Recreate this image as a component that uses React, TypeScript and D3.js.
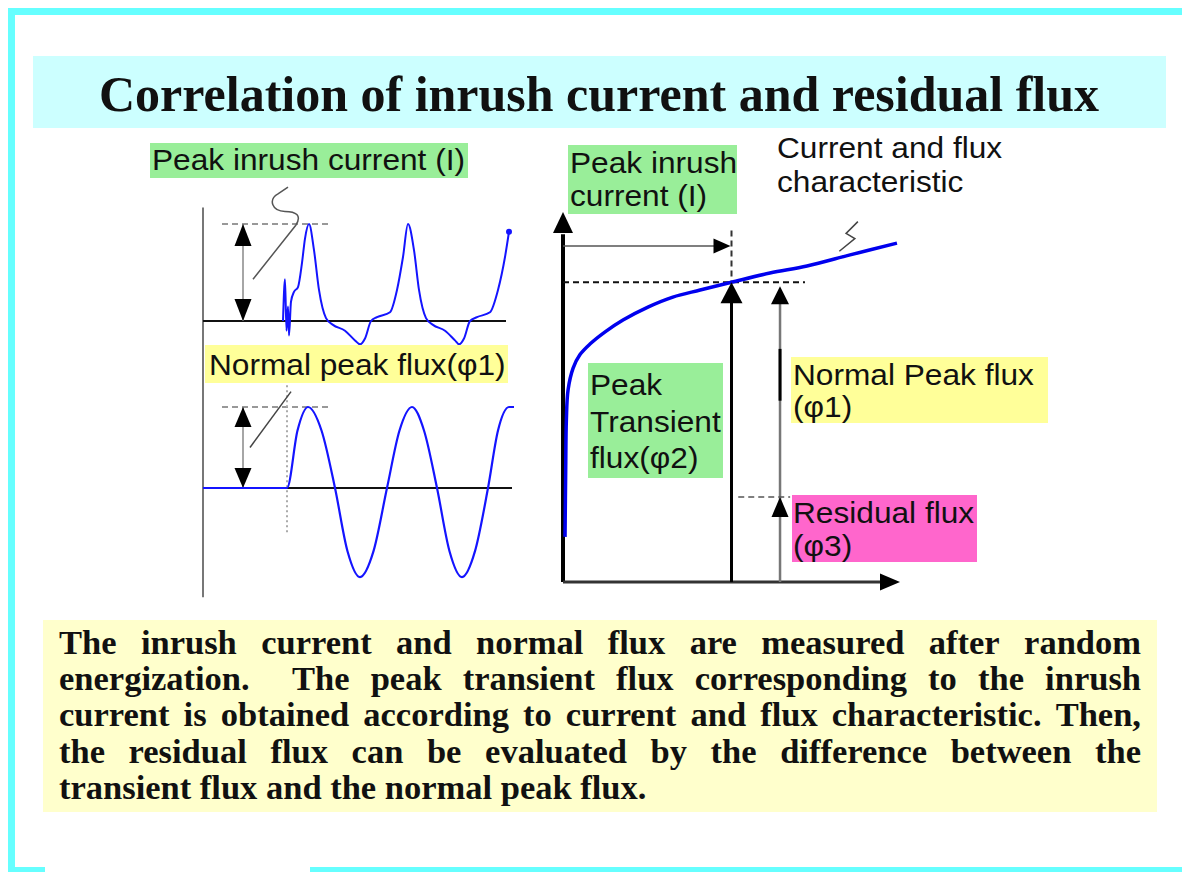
import React, { useEffect, useRef } from 'react'
import * as d3 from 'd3'

const W = 1182
const H = 872

// normal flux after energization (time in ms, flux in p.u.)
const fluxTime = [0, 16.8, 18.9, 21.0, 23.7, 26.4, 28.9, 31.4, 34.1, 36.8, 39.3, 41.8, 44.2, 46.8, 49.3, 51.8, 54.4, 57.0, 59.0, 61.2, 62.2]
const fluxValue = [0, 0, 0.71, 1.0, 0.71, 0, -0.78, -1.1, -0.78, 0, 0.71, 1.0, 0.71, 0, -0.78, -1.1, -0.78, 0, 0.71, 1.0, 1.0]

// inrush current (time in ms, current in p.u. of peak)
const inrushTime = [16.0, 16.4, 16.7, 17.0, 17.2, 17.6, 18.2, 19.0, 19.8, 20.4, 21.2, 22.2, 23.2, 24.6, 26.0, 28.4, 30.4, 31.4, 32.4, 33.6, 34.8, 37.4, 38.8, 40.0, 41.0, 42.2, 43.2, 44.6, 46.0, 48.4, 50.4, 51.2, 52.2, 53.4, 54.8, 57.4, 59.0, 60.4, 61.2]
const inrushValue = [0, 0.43, -0.1, 0.15, -0.15, 0.2, 0.3, 0.35, 0.6, 0.85, 1.0, 0.73, 0.32, 0.03, -0.04, -0.1, -0.2, -0.24, -0.18, 0, 0.04, 0.09, 0.32, 0.66, 1.0, 0.73, 0.32, 0.03, -0.04, -0.1, -0.2, -0.24, -0.18, 0, 0.04, 0.09, 0.32, 0.66, 0.92]

// current and flux characteristic
const charCurrent = [0.06, 0.08, 0.1, 0.15, 0.3, 0.5, 0.8, 1.25, 1.78, 2.52, 3.26, 4.07, 5.0, 6.14, 7.24, 8.52, 9.91]
const charFlux = [1.22, 3.03, 4.38, 5.19, 5.78, 6.14, 6.43, 6.76, 7.08, 7.43, 7.7, 7.89, 8.1, 8.35, 8.54, 8.84, 9.16]

const peakCurrent = 5.0
const phi2 = 8.1 // peak transient flux
const phi3 = 2.3 // residual flux
const phi1Pos = 6.44 // where the phi1/phi3 arrows sit on the current axis

const title = 'Correlation of inrush current and residual flux'
const bodyLines = [
    'The inrush current and normal flux are measured after random',
    'energization.  The peak transient flux corresponding to the inrush',
    'current is obtained according to current and flux characteristic. Then,',
    'the residual flux can be evaluated by the difference between the',
    'transient flux and the normal peak flux.',
]

const SANS = "'Liberation Sans', Arial, sans-serif"
const SERIF = "'Liberation Serif', 'Times New Roman', serif"

type Sel = d3.Selection<any, unknown, null, undefined>

const tri = (g: Sel, x: number, y: number, dir: string, len: number, half: number, fill = '#000') => {
    let p: number[][]
    if (dir === 'up') p = [[x, y], [x - half, y + len], [x + half, y + len]]
    else if (dir === 'down') p = [[x, y], [x - half, y - len], [x + half, y - len]]
    else if (dir === 'right') p = [[x, y], [x - len, y - half], [x - len, y + half]]
    else p = [[x, y], [x + len, y - half], [x + len, y + half]]
    g.append('path').attr('d', 'M' + p.map(d => d.join(',')).join('L') + 'Z').attr('fill', fill)
}

const line = (g: Sel, x1: number, y1: number, x2: number, y2: number, stroke: string, sw: number, dash?: string) => {
    const l = g.append('line').attr('x1', x1).attr('y1', y1).attr('x2', x2).attr('y2', y2)
        .attr('stroke', stroke).attr('stroke-width', sw)
    if (dash) l.attr('stroke-dasharray', dash)
}

// the slide's sans font runs a bit wider than Arial, so stretch it slightly
const label = (g: Sel, box: number[] | null, fill: string, x: number, lines: string[], baselines: number[]) => {
    if (box) g.append('rect').attr('x', box[0]).attr('y', box[1]).attr('width', box[2] - box[0]).attr('height', box[3] - box[1]).attr('fill', fill)
    lines.forEach((t, i) => {
        g.append('text').attr('transform', `translate(${x},${baselines[i]}) scale(1.055,1)`)
            .attr('font-family', SANS).attr('font-size', 30).attr('fill', '#111').text(t)
    })
}

export default function App() {
    const ref = useRef<SVGSVGElement>(null)

    useEffect(() => {
        const svg = d3.select(ref.current) as unknown as Sel
        svg.selectAll('*').remove()

        // frame
        svg.append('rect').attr('width', W).attr('height', H).attr('fill', '#fff')
        svg.append('rect').attr('x', 8).attr('y', 8).attr('width', W - 8).attr('height', 7).attr('fill', '#66ffff')
        svg.append('rect').attr('x', 8).attr('y', 8).attr('width', 7).attr('height', H - 8).attr('fill', '#66ffff')
        svg.append('rect').attr('x', 8).attr('y', 867).attr('width', 37).attr('height', 5).attr('fill', '#66ffff')
        svg.append('rect').attr('x', 310).attr('y', 867).attr('width', W - 310).attr('height', 5).attr('fill', '#66ffff')

        // title
        svg.append('rect').attr('x', 33).attr('y', 56).attr('width', 1133).attr('height', 72).attr('fill', '#ccffff')
        svg.append('text').attr('x', 599).attr('y', 111).attr('text-anchor', 'middle')
            .attr('font-family', SERIF).attr('font-weight', 'bold').attr('font-size', 50).attr('fill', '#111')
            .text(title)

        // ---------------- left: waveforms ----------------
        const left = svg.append('g')
        const xL = d3.scaleLinear().domain([0, 62]).range([203, 513])
        const yI = d3.scaleLinear().domain([0, 1]).range([321, 224])
        const yF = d3.scaleLinear().domain([0, 1]).range([488, 407])

        line(left, xL(0), yI(1.17), xL(0), yF(-1.35), '#777', 2)
        line(left, xL(0), yI(0), xL(60.6), yI(0), '#111', 2)
        line(left, xL(0), yF(0), xL(61.8), yF(0), '#111', 2)

        // peak markers
        line(left, xL(3.8), yI(1), xL(25.8), yI(1), '#777', 1.5, '6,4')
        line(left, xL(3.8), yF(1), xL(25.8), yF(1), '#777', 1.5, '6,4')
        line(left, xL(16.8), yF(1.27), xL(16.8), yF(-0.56), '#aaa', 2, '2,3')

        line(left, xL(8), yI(1), xL(8), yI(0), '#888', 1.5)
        tri(left, xL(8), yI(1), 'up', 22, 8.5)
        tri(left, xL(8), yI(0), 'down', 22, 8.5)
        line(left, xL(8), yF(1), xL(8), yF(0), '#888', 1.5)
        tri(left, xL(8), yF(1), 'up', 20, 8.5)
        tri(left, xL(8), yF(0), 'down', 20, 8.5)

        // break marks
        left.append('path').attr('d', `M${xL(10)},${yI(0.43)} L${xL(18.6)},${yI(0.99)} C${xL(19.8)},${yI(1.09)} ${xL(18.6)},${yI(1.13)} ${xL(16.4)},${yI(1.13)} C${xL(13.8)},${yI(1.13)} ${xL(13)},${yI(1.25)} ${xL(15)},${yI(1.31)} L${xL(17)},${yI(1.38)}`)
            .attr('fill', 'none').attr('stroke', '#555').attr('stroke-width', 1.5)
        line(left, xL(9.4), yF(0.5), xL(17.6), yF(1.19), '#444', 1.5)

        // waves
        const dataF = fluxTime.map((t, i) => [t, fluxValue[i]] as [number, number])
        const dataI = inrushTime.map((t, i) => [t, inrushValue[i]] as [number, number])
        left.append('path').datum(dataF)
            .attr('d', d3.line<[number, number]>().x(d => xL(d[0])).y(d => yF(d[1])).curve(d3.curveMonotoneX))
            .attr('fill', 'none').attr('stroke', '#1414ff').attr('stroke-width', 2.2)
        left.append('path').datum(dataI)
            .attr('d', d3.line<[number, number]>().x(d => xL(d[0])).y(d => yI(d[1])).curve(d3.curveMonotoneX))
            .attr('fill', 'none').attr('stroke', '#1414ff').attr('stroke-width', 2)
        const lastI = dataI[dataI.length - 1]
        left.append('circle').attr('cx', xL(lastI[0])).attr('cy', yI(lastI[1])).attr('r', 3).attr('fill', '#1414ff')

        label(left, [150, 143, 468, 178], '#99ee99', 152, ['Peak inrush current (I)'], [170])
        label(left, [205, 345, 508, 383], '#ffff99', 209, ['Normal peak flux(\u03c61)'], [375])

        // ---------------- right: current / flux characteristic ----------------
        const right = svg.append('g')
        const xR = d3.scaleLinear().domain([0, 10]).range([563, 900])
        const yR = d3.scaleLinear().domain([0, 10]).range([582, 212])

        // axes
        line(right, xR(0), yR(0), xR(0), yR(9.4), '#000', 4)
        tri(right, xR(0), yR(10), 'up', 21, 10)
        line(right, xR(0), yR(0), xR(9.5), yR(0), '#333', 3)
        tri(right, xR(10), yR(0), 'right', 20, 8.5)

        // current arrow
        line(right, xR(0), yR(9.08), xR(peakCurrent) - 16, yR(9.08), '#555', 1.5)
        tri(right, xR(peakCurrent) - 1, yR(9.08), 'right', 17, 7.5)
        line(right, xR(peakCurrent), yR(9.5), xR(peakCurrent), yR(phi2), '#333', 2, '6,4')
        line(right, xR(0), yR(phi2), xR(7.18), yR(phi2), '#111', 2, '6,4')

        // characteristic curve
        const dataC = charCurrent.map((c, i) => [c, charFlux[i]] as [number, number])
        right.append('path').datum(dataC)
            .attr('d', d3.line<[number, number]>().x(d => xR(d[0])).y(d => yR(d[1])).curve(d3.curveCatmullRom))
            .attr('fill', 'none').attr('stroke', '#0000ee').attr('stroke-width', 3.5)
        right.append('path').attr('d', `M${xR(8.75)},${yR(9.74)} L${xR(8.4)},${yR(9.42)} L${xR(8.66)},${yR(9.28)} L${xR(8.2)},${yR(8.94)}`)
            .attr('fill', 'none').attr('stroke', '#444').attr('stroke-width', 1.5)

        // peak transient flux arrow
        line(right, xR(peakCurrent), yR(0), xR(peakCurrent), yR(phi2) + 18, '#000', 3)
        tri(right, xR(peakCurrent), yR(phi2), 'up', 21, 11)

        // normal flux and residual flux arrows
        line(right, xR(phi1Pos), yR(0), xR(phi1Pos), yR(phi2) + 16, '#777', 2.5)
        line(right, xR(phi1Pos), yR(6.3), xR(phi1Pos), yR(4.9), '#000', 3)
        tri(right, xR(phi1Pos), yR(phi2) + 4, 'up', 18, 9)
        tri(right, xR(phi1Pos), yR(phi3), 'up', 20, 8.5)
        line(right, xR(5.2), yR(phi3), xR(6.74), yR(phi3), '#555', 1.5, '6,4')

        label(right, [568, 145, 737, 214], '#99ee99', 570, ['Peak inrush', 'current (I)'], [173, 206])
        label(right, null, '', 777, ['Current and flux', 'characteristic'], [158, 192])
        label(right, [588, 363, 723, 478], '#99ee99', 590, ['Peak', 'Transient', 'flux(\u03c62)'], [395, 432, 468])
        label(right, [791, 357, 1048, 423], '#ffff99', 793, ['Normal Peak flux', '(\u03c61)'], [385, 417])
        label(right, [792, 495, 977, 562], '#ff66cc', 793, ['Residual flux', '(\u03c63)'], [523, 556])

        // ---------------- bottom text, justified ----------------
        svg.append('rect').attr('x', 43).attr('y', 620).attr('width', 1114).attr('height', 192).attr('fill', '#ffffcc')
        const body = svg.append('g').attr('font-family', SERIF).attr('font-weight', 'bold')
            .attr('font-size', 34.5).attr('fill', '#111')
        const x0 = 59, x1 = 1141
        bodyLines.forEach((ln, i) => {
            const y = 654 + i * 36.2
            const words: string[] = []
            const weights: number[] = []
            let w = 1
            ln.split(' ').forEach(tok => {
                if (tok === '') { w += 1; return }
                if (words.length) weights.push(w)
                words.push(tok)
                w = 1
            })
            const nodes = words.map(wd => body.append('text').attr('y', y).text(wd))
            const widths = nodes.map(n => (n.node() as SVGTextElement).getComputedTextLength())
            const isLast = i === bodyLines.length - 1
            const unit = isLast ? 8.6 : (x1 - x0 - d3.sum(widths)) / d3.sum(weights)
            let x = x0
            nodes.forEach((n, k) => {
                n.attr('x', x)
                x += widths[k] + (weights[k] ?? 0) * unit
            })
        })
    }, [])

    return <svg ref={ref} width={W} height={H} style={{ position: 'absolute', left: 0, top: 0 }} />
}
